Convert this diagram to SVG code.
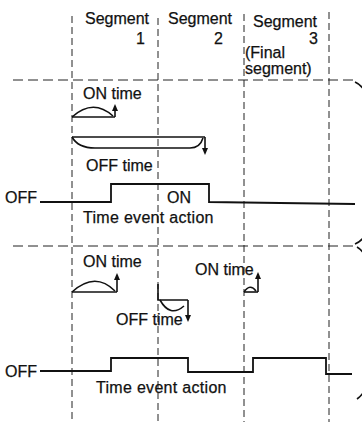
<svg xmlns="http://www.w3.org/2000/svg" width="362" height="422" viewBox="0 0 362 422">
<style>
text{font-family:"Liberation Sans",Arial,sans-serif;font-size:16px;fill:#111;stroke:#111;stroke-width:0.25}
.vd{stroke:#222;stroke-width:1;stroke-dasharray:7 4;fill:none}
.hd{stroke:#222;stroke-width:1;stroke-dasharray:10 5;fill:none}
.ln{stroke:#111;stroke-width:1.6;fill:none}
.wf{stroke:#111;stroke-width:1.8;fill:none}
.ah{fill:#111;stroke:none}
</style>
<rect width="362" height="422" fill="#fff"/>
<g id="grid">
<path class="vd" d="M72,16 V422"/>
<path class="vd" d="M158,18 V422"/>
<path class="vd" d="M244,14 V422"/>
<path class="vd" d="M329,12 V422"/>
<path class="hd" d="M13,80 H356"/>
<path class="hd" d="M13,246 H354"/>
</g>
<g id="braces">
<path class="ln" stroke-width="1.2" d="M355,82 Q364,86 366,96 L366,232 Q364,240 355,244"/>
<path class="ln" stroke-width="1.2" d="M357,247 Q364,251 366,260 L366,386 Q364,394 357,399"/>
</g>
<g id="headers">
<text x="85" y="24">Segment</text>
<text x="136" y="44">1</text>
<text x="168" y="24">Segment</text>
<text x="214" y="44">2</text>
<text x="253" y="27">Segment</text>
<text x="309" y="44">3</text>
<text x="245" y="58">(Final</text>
<text x="245" y="74">segment)</text>
</g>
<g id="connectors">
<path class="ln" d="M72,117 H115"/>
<path class="ln" d="M72,117 Q93,98 113,116"/>
<path class="ln" d="M115,117 V110"/>
<polygon class="ah" points="112,111 115,104 118,111"/>
<path class="ln" d="M72,137 H205"/>
<path class="ln" d="M72,137 Q78,148 95,148 H190 Q200,148 203,138"/>
<path class="ln" d="M205,137 V149"/>
<polygon class="ah" points="202,148 205,155 208,148"/>
<path class="wf" d="M40,202 H111 V184 H209 V202 L280,203 L355,204"/>
<path class="ln" d="M72,292 H117"/>
<path class="ln" d="M72,292 Q95,271 115,291"/>
<path class="ln" d="M117,292 V279"/>
<polygon class="ah" points="114,280 117,273 120,280"/>
<path class="ln" d="M158,284 V300 H188"/>
<path class="ln" d="M160,300 Q170,318 184,306"/>
<path class="ln" d="M188,300 V316"/>
<polygon class="ah" points="185,315 188,322 191,315"/>
<path class="ln" d="M244,292 H258"/>
<path class="ln" d="M244,292 Q250,283 256,291"/>
<path class="ln" d="M258,292 V278"/>
<polygon class="ah" points="255,279 258,272 261,279"/>
<path class="wf" d="M40,371 H111 V358 H188 V372 H253 V358 H326 V374 H352"/>
</g>
<g id="labels">
<text x="83" y="99">ON time</text>
<text x="86" y="171">OFF time</text>
<text x="5" y="203">OFF</text>
<text x="167" y="203">ON</text>
<text x="83" y="223" letter-spacing="0.3">Time event action</text>
<text x="83" y="267">ON time</text>
<text x="116" y="325">OFF time</text>
<text x="195" y="275">ON time</text>
<text x="5" y="377">OFF</text>
<text x="96" y="393" letter-spacing="0.3">Time event action</text>
</g>
</svg>
